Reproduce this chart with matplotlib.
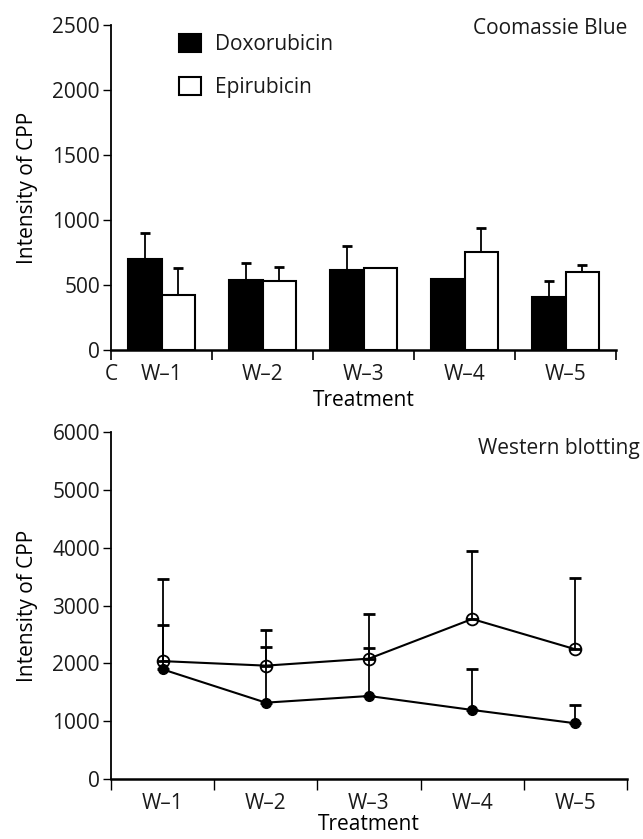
import numpy as np
import matplotlib
matplotlib.use("Agg")
import matplotlib.pyplot as plt

plt.rcParams['font.family'] = ['Open Sans', 'DejaVu Sans']
plt.rcParams['font.size'] = 15
plt.rcParams['text.color'] = '#1a1a1a'
plt.rcParams['xtick.color'] = '#1a1a1a'
plt.rcParams['ytick.color'] = '#1a1a1a'

# data
groups = ['W–1', 'W–2', 'W–3', 'W–4', 'W–5']

# Coomassie Blue (bars)
cb_dox = [698, 538, 615, 544, 410]
cb_dox_err = [199, 134, 188, 0, 123]
cb_epi = [423, 533, 633, 751, 603]
cb_epi_err = [205, 103, 0, 190, 48]

# Western blotting (lines)
wb_dox = [1898, 1323, 1438, 1197, 967]
wb_dox_top = [2664, 2290, 2261, 1898, 1277]
wb_epi = [2040, 1962, 2083, 2767, 2244]
wb_epi_top = [3458, 2577, 2848, 3947, 3469]

W, H = 643, 839
fig = plt.figure(figsize=(W / 100, H / 100), dpi=100)

n = len(groups)
centers = np.arange(n) + 0.5
bw = 0.33


def style_axes(ax, first_label, xlabelpad):
    for s in ['top', 'right']:
        ax.spines[s].set_visible(False)
    ax.spines['left'].set_linewidth(1.3)
    ax.spines['bottom'].set_linewidth(1.8)
    ax.set_xlim(0, n)
    ax.set_xticks(np.arange(n + 1))
    ax.set_xticklabels([first_label] + [''] * n)
    ax.set_xticks(centers, minor=True)
    ax.set_xticklabels(groups, minor=True)
    ax.tick_params(axis='x', which='major', length=7, width=1.2, pad=3, colors='black',
                   labelcolor='#1a1a1a')
    ax.tick_params(axis='x', which='minor', length=0, pad=10)
    ax.tick_params(axis='y', length=6, width=1.0, pad=2, colors='black', labelcolor='#1a1a1a')
    ax.set_ylabel('Intensity of CPP', labelpad=10)
    ax.set_xlabel('Treatment', labelpad=xlabelpad)


# --- top panel: Coomassie Blue ---
ax1 = fig.add_axes([111 / W, 1 - 350 / H, 505 / W, 325 / H])
b1 = ax1.bar(centers - bw / 2, cb_dox, bw, color='black', edgecolor='black',
             linewidth=1.5, label='Doxorubicin', zorder=2)
b2 = ax1.bar(centers + bw / 2, cb_epi, bw, color='white', edgecolor='black',
             linewidth=1.5, label='Epirubicin', zorder=2)
ax1.errorbar(centers - bw / 2, cb_dox, yerr=[np.zeros(n), cb_dox_err], fmt='none',
             ecolor='black', elinewidth=1.3, capsize=3.5, capthick=2, zorder=1)
ax1.errorbar(centers + bw / 2, cb_epi, yerr=[np.zeros(n), cb_epi_err], fmt='none',
             ecolor='black', elinewidth=1.3, capsize=3.5, capthick=2, zorder=1)
ax1.set_ylim(0, 2500)
ax1.set_yticks(np.arange(0, 2501, 500))
style_axes(ax1, 'C', 4)
ax1.legend(handles=[b1, b2], loc='upper left', bbox_to_anchor=(0.098, 1.03),
           frameon=False, handlelength=1.05, handleheight=0.95,
           handletextpad=0.65, labelspacing=1.05, fontsize=15)
ax1.text(1.022, 0.988, 'Coomassie Blue', transform=ax1.transAxes,
         ha='right', va='center', fontsize=15)

# --- bottom panel: Western blotting ---
ax2 = fig.add_axes([111 / W, 1 - 779.3 / H, 516 / W, 347.6 / H])
ax2.errorbar(centers, wb_epi, yerr=[np.zeros(n), np.array(wb_epi_top) - np.array(wb_epi)],
             fmt='none', ecolor='black', elinewidth=1.3, capsize=4, capthick=2, zorder=1)
ax2.errorbar(centers, wb_dox, yerr=[np.zeros(n), np.array(wb_dox_top) - np.array(wb_dox)],
             fmt='none', ecolor='black', elinewidth=1.3, capsize=4, capthick=2, zorder=1)
ax2.plot(centers, wb_epi, '-o', color='black', lw=1.5, ms=8.5,
         mfc='none', mec='black', mew=1.3, zorder=3)
ax2.plot(centers, wb_dox, '-o', color='black', lw=1.5, ms=7,
         mfc='black', mec='black', zorder=3)
ax2.set_ylim(0, 6000)
ax2.set_yticks(np.arange(0, 6001, 1000))
style_axes(ax2, '', 0)
ax2.tick_params(axis='x', which='major', length=8, width=1.0)
ax2.text(1.025, 0.953, 'Western blotting', transform=ax2.transAxes,
         ha='right', va='center', fontsize=15)

fig.savefig('out.png', dpi=100)
